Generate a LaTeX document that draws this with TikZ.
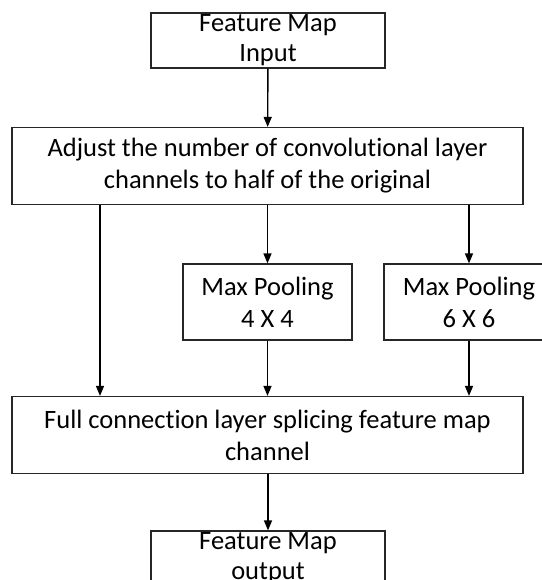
\documentclass[tikz,border=0pt]{standalone}
\usepackage{fontspec}
\setmainfont[Ligatures=NoCommon]{Carlito}
\usetikzlibrary{arrows.meta}
\tikzset{
    box/.style={draw=black!85,line width=1.2pt,inner sep=0pt,align=center,
        font=\fontsize{26.5}{32}\selectfont},
    small box/.style={box,minimum width=234pt,minimum height=55pt,
        font=\fontsize{26.5}{30}\selectfont,execute at begin node={\rule{0pt}{24pt}}},
    wide box/.style={box,minimum width=511pt,minimum height=77pt},
    pool box/.style={box,minimum width=169pt,minimum height=76pt},
    arr/.style={-{Triangle[length=10pt,width=8pt]},line width=1.4pt},
}

\begin{document}
\begin{tikzpicture}[x=1pt,y=-1pt]
    \useasboundingbox (0,0) rectangle (541,580);
    % input and first layer
    \node[small box] (input) at (268,40.5) {Feature Map\\Input};
    \node[wide box] (adjust) at (267.5,166) {Adjust the number of convolutional layer\\channels to half of the original};
    % pooling branches
    \node[pool box] (pool4) at (267.5,302) {Max Pooling\\4 X 4};
    \node[pool box,minimum width=170pt] (pool6) at (469,302) {Max Pooling\\6 X 6};
    \coordinate (bypass) at (100,300);
    % splicing and output
    \node[wide box] (fullconn) at (267.5,435) {Full connection layer splicing feature map\\channel};
    \node[small box] (output) at (268,558.5) {Feature Map\\output};

    \draw[arr] (input) -- (adjust);
    \draw[arr] (adjust.south -| bypass) -- (fullconn.north -| bypass);
    \draw[arr] (adjust.south -| pool4) -- (pool4);
    \draw[arr] (adjust.south -| pool6) -- (pool6);
    \draw[arr] (pool4) -- (fullconn.north -| pool4);
    \draw[arr] (pool6) -- (fullconn.north -| pool6);
    \draw[arr] (fullconn.south -| output) -- (output);
\end{tikzpicture}
\end{document}
